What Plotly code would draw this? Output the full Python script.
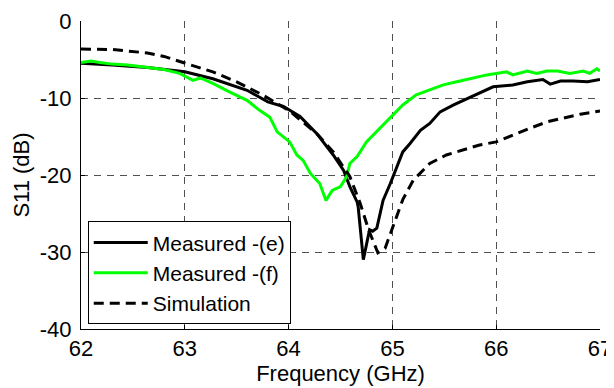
import plotly.graph_objects as go

# Measured -(e)
freq_e = [62.0, 62.3, 62.64, 63.0, 63.27, 63.6, 63.8, 63.95, 64.11, 64.27, 64.43, 64.53, 64.59,
          64.66, 64.67, 64.72, 64.78, 64.81, 64.85, 64.91, 64.98, 65.05, 65.1, 65.17, 65.27,
          65.36, 65.46, 65.59, 65.72, 65.85, 65.97, 66.16, 66.3, 66.45, 66.52, 66.62, 66.74,
          66.88, 67.0]
s11_e = [-5.5, -5.7, -6.05, -6.6, -7.5, -9.0, -10.5, -11.1, -12.4, -14.6, -17.4, -19.4, -21.5,
         -23.5, -24.1, -31.0, -27.1, -27.3, -26.9, -23.3, -21.1, -18.6, -17.0, -15.9, -14.2,
         -13.3, -11.8, -10.9, -10.1, -9.2, -8.55, -8.3, -7.9, -7.6, -8.2, -7.8, -7.8,
         -7.9, -7.6]

# Measured -(f)
freq_f = [62.0, 62.1, 62.18, 62.3, 62.45, 62.64, 62.8, 62.95, 63.08, 63.15, 63.27, 63.43, 63.6,
          63.72, 63.82, 63.89, 64.01, 64.08, 64.14, 64.21, 64.3, 64.36, 64.42, 64.5, 64.56,
          64.59, 64.66, 64.75, 64.88, 65.01, 65.1, 65.23, 65.36, 65.49, 65.62, 65.75, 65.91,
          66.1, 66.16, 66.3, 66.39, 66.49, 66.59, 66.71, 66.84, 66.9, 66.97, 67.0]
s11_f = [-5.4, -5.2, -5.4, -5.6, -5.7, -6.0, -6.3, -6.8, -7.7, -7.4, -8.1, -9.2, -10.3,
         -11.6, -12.5, -14.4, -15.7, -17.4, -18.1, -19.8, -21.1, -23.3, -22.0, -21.5, -20.2,
         -18.5, -17.6, -15.7, -13.9, -12.2, -10.9, -9.6, -9.0, -8.3, -7.9, -7.5, -7.0,
         -6.6, -7.0, -6.5, -6.8, -6.5, -6.5, -6.8, -6.5, -6.8, -6.2, -6.5]

# Simulation
freq_sim = [62.0, 62.15, 62.3, 62.45, 62.64, 62.8, 62.95, 63.1, 63.27, 63.5, 63.75, 64.0, 64.27,
            64.43, 64.59, 64.69, 64.77, 64.86, 64.93, 65.01, 65.1, 65.2, 65.36, 65.52, 65.68,
            65.84, 66.0, 66.16, 66.33, 66.49, 66.65, 66.81, 67.0]
s11_sim = [-3.65, -3.65, -3.7, -3.9, -4.15, -4.6, -5.2, -5.9, -6.6, -7.9, -9.6, -11.6, -14.6,
           -17.0, -20.2, -23.7, -27.1, -30.1, -29.5, -26.5, -23.2, -20.7, -18.5, -17.4, -16.7,
           -16.1, -15.7, -14.8, -13.9, -13.1, -12.6, -12.1, -11.7]

x_ticks = [62, 63, 64, 65, 66, 67]
y_ticks = [-40, -30, -20, -10, 0]

fig = go.Figure()
fig.add_trace(go.Scatter(x=freq_e, y=s11_e, mode="lines", name="Measured -(e)",
                         line=dict(color="black", width=3)))
fig.add_trace(go.Scatter(x=freq_f, y=s11_f, mode="lines", name="Measured -(f)",
                         line=dict(color="#00ff00", width=3)))
fig.add_trace(go.Scatter(x=freq_sim, y=s11_sim, mode="lines", name="Simulation",
                         line=dict(color="black", width=3, dash="10px,6px")))

font = "Liberation Sans, Arial, sans-serif"
# the page body has an 8px default margin, so the figure is sized and offset to fit the window
fig.update_layout(
    width=606, height=380,
    margin=dict(l=73, r=14, t=13, b=59),
    paper_bgcolor="white", plot_bgcolor="white",
    font=dict(family=font, size=22, color="black"),
    showlegend=True,
    legend=dict(x=0.013, y=0.015, xanchor="left", yanchor="bottom",
                bgcolor="white", bordercolor="black", borderwidth=1,
                font=dict(size=21), tracegroupgap=0, itemwidth=54),
    xaxis=dict(range=[62, 67], tickvals=x_ticks, ticktext=[str(v) for v in x_ticks],
               showgrid=True, gridcolor="#505050", griddash="7px,6px", gridwidth=1,
               showline=True, linecolor="black", linewidth=1, mirror=False,
               ticks="inside", ticklen=4, tickcolor="black", ticklabelstandoff=0,
               zeroline=False, automargin=False,
               title=dict(text="Frequency (GHz)", standoff=0, font=dict(size=22)),
               tickfont=dict(size=22)),
    yaxis=dict(range=[-40, 0], tickvals=y_ticks, ticktext=[str(v) for v in y_ticks],
               showgrid=True, gridcolor="#505050", griddash="7px,6px", gridwidth=1,
               showline=True, linecolor="black", linewidth=1, mirror=False,
               ticks="inside", ticklen=4, tickcolor="black", ticklabelstandoff=4,
               zeroline=False, automargin=False,
               title=dict(text="S11 (dB)", standoff=4, font=dict(size=22)),
               tickfont=dict(size=22)),
)

fig.write_html("out.html")
